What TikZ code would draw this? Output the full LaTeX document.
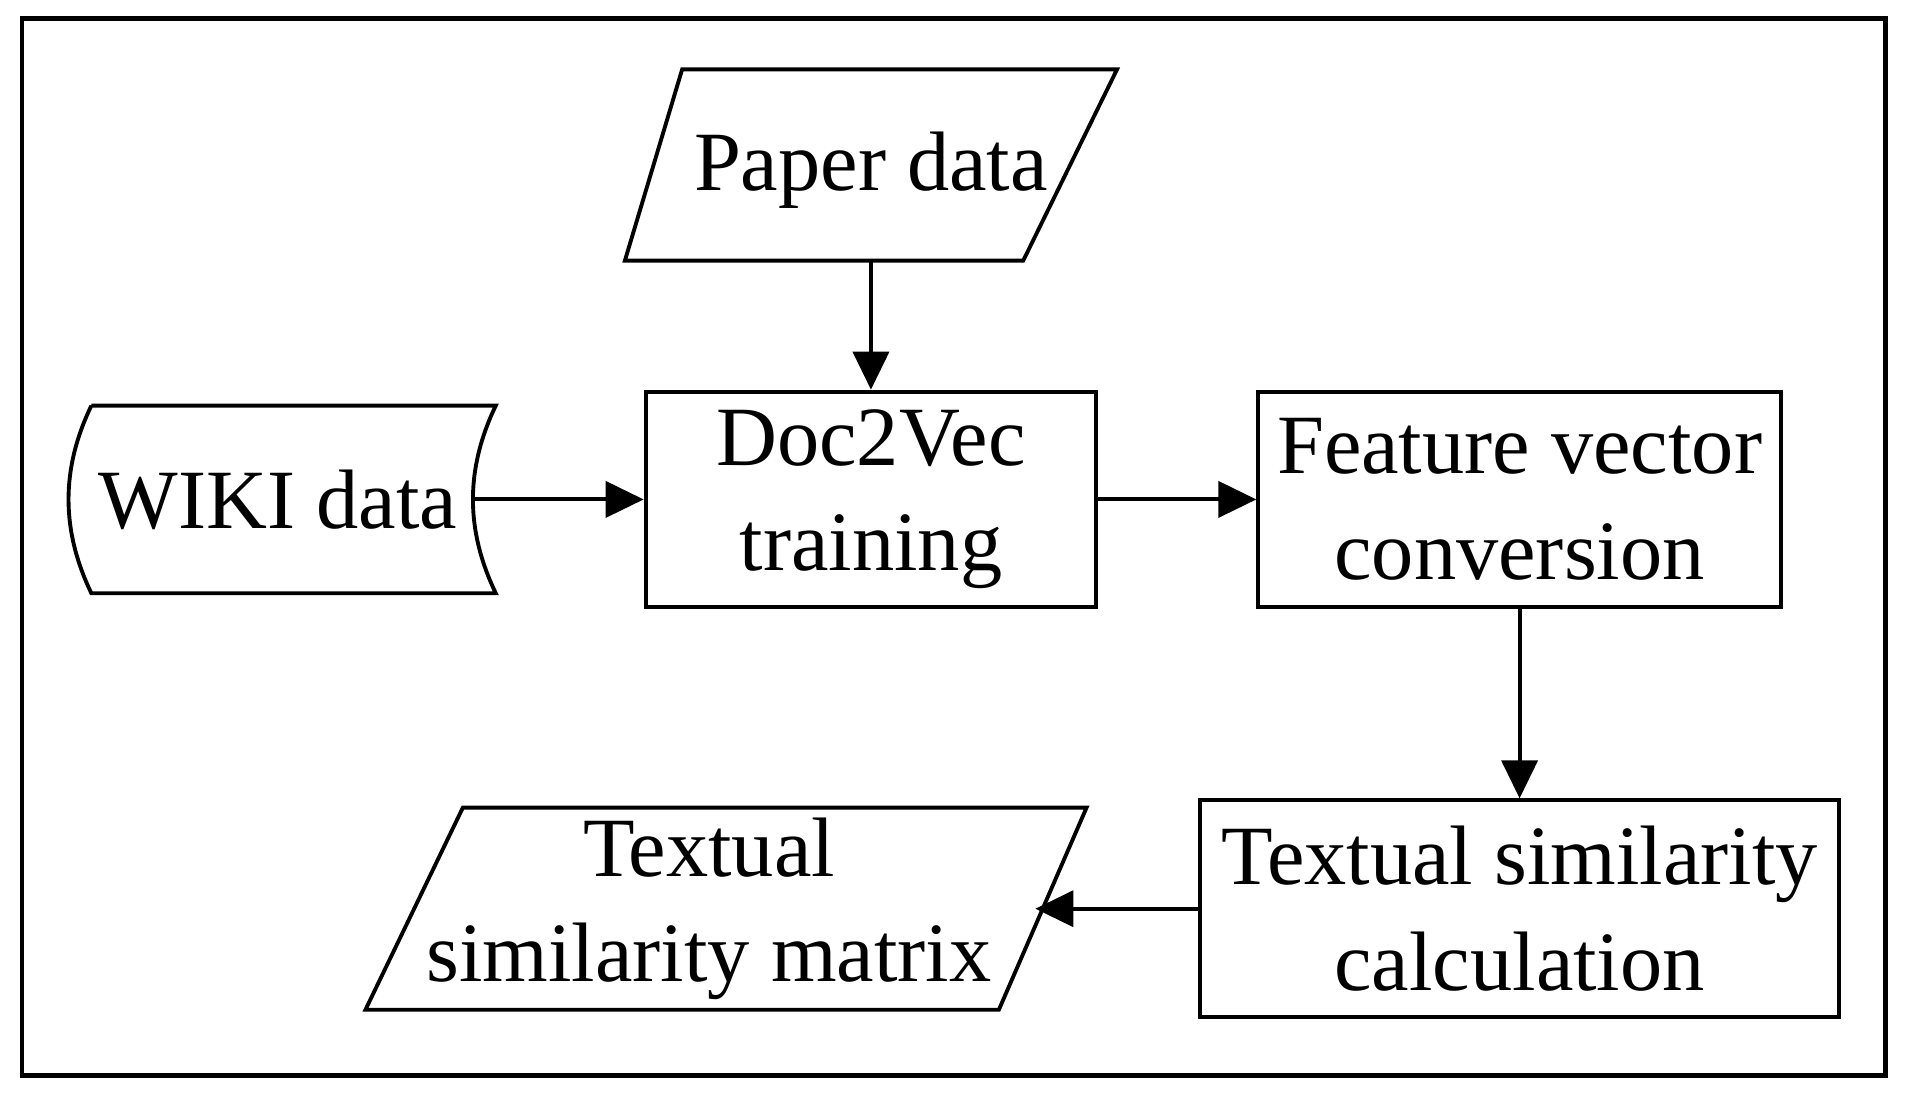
\documentclass[tikz,border=0pt]{standalone}
\usepackage{fontspec}
\setmainfont{Liberation Serif}
\usetikzlibrary{arrows.meta}
\tikzset{
  flow/.style={line width=1.1pt, -{Triangle[length=0.38cm,width=0.36cm]}},
  box/.style={draw, line width=1.1pt},
  txt/.style={align=center, font=\fontsize{24}{30}\selectfont, inner sep=0pt}
}
\begin{document}
\begin{tikzpicture}[x=0.01218cm,y=-0.01218cm]
  \useasboundingbox (0,0) rectangle (1568,904);
  \draw[line width=1.3pt] (18,15) rectangle (1548,883);
  % input data
  \draw[box] (560,57) -- (917,57) -- (840,214) -- (513,214) -- cycle;
  \node[txt] (paper) at (715,140) {Paper data};
  \coordinate (paperb) at (715,214);
  \draw[box] (75,333) -- (407,333) .. controls (382,385) and (382,435) .. (407,487)
    -- (75,487) .. controls (50,435) and (50,385) .. (75,333);
  \node[txt] (wiki) at (228,410) {WIKI data};
  \coordinate (wikir) at (388,410);
  % process steps
  \node[box, txt, minimum width=370*0.01218cm, minimum height=177*0.01218cm] (doc) at (715,410)
    {Doc2Vec\\training};
  \node[box, txt, minimum width=429*0.01218cm, minimum height=177*0.01218cm] (feat) at (1247.5,410)
    {Feature vector\\conversion};
  \node[box, txt, minimum width=525*0.01218cm, minimum height=178*0.01218cm] (calc) at (1247.5,746)
    {Textual similarity\\calculation};
  % output
  \draw[box] (380,663) -- (892,663) -- (820,829) -- (300,829) -- cycle;
  \node[txt] (matrix) at (582,746) {Textual\\similarity matrix};
  \coordinate (matrixr) at (850,746);
  % connectors
  \draw[flow] (paperb) -- (doc);
  \draw[flow] (wikir) -- (doc);
  \draw[flow] (doc) -- (feat);
  \draw[flow] (feat) -- (calc);
  \draw[flow] (calc) -- (matrixr);
\end{tikzpicture}
\end{document}
